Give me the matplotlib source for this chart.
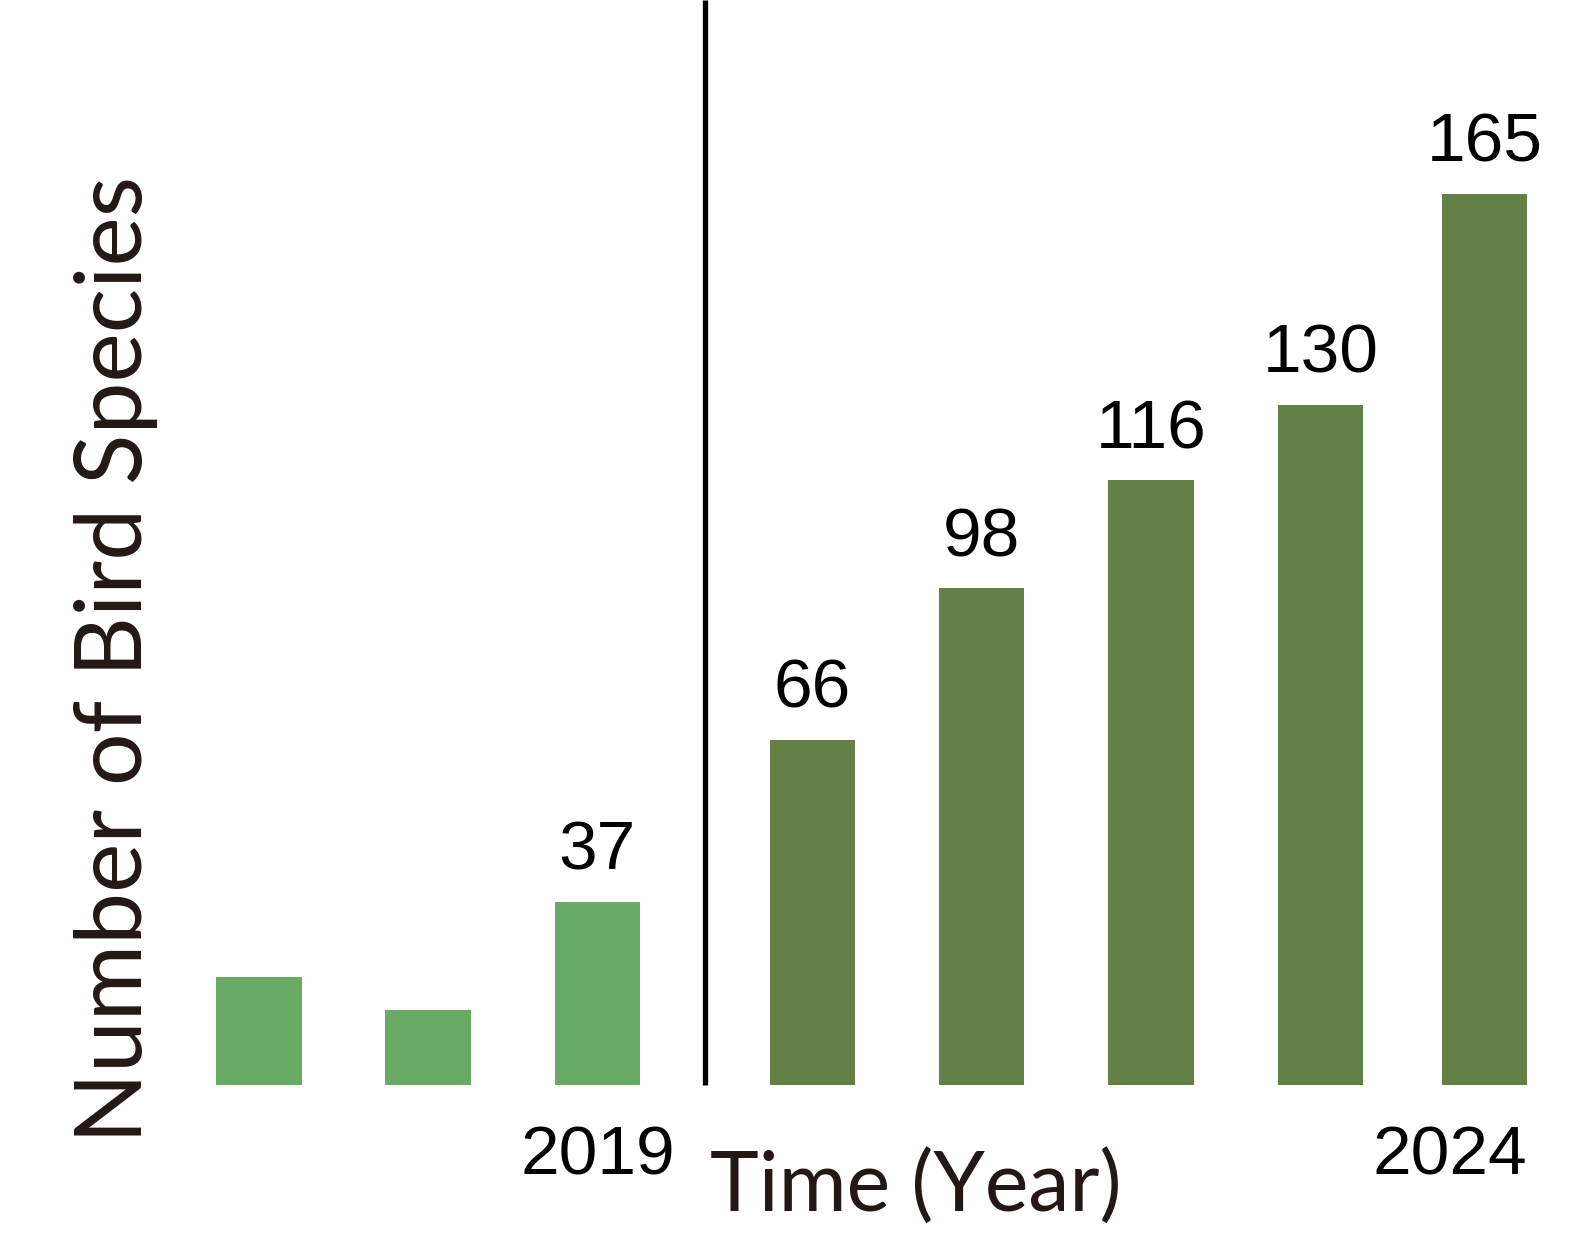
import matplotlib.pyplot as plt
import numpy as np

# bar lengths as drawn (the chart is not to scale), value labels printed above
bar_heights = [20, 14, 34, 64, 92, 112, 126, 165]
value_labels = ["", "", "37", "66", "98", "116", "130", "165"]
group = [0, 0, 0, 1, 1, 1, 1, 1]          # 0 = up to 2019, 1 = after 2019
year_labels = ["2019", "2024"]

LIGHT = "#69aa65"
DARK = "#658046"
INK = "#231815"

# x positions: a wider gap between the two periods
x = np.arange(len(bar_heights)) + 0.27 * np.array(group)
x[-1] -= 0.03   # last bar sits a little closer in the original
width = 0.505

fig = plt.figure(figsize=(15.84, 12.44), dpi=100)
ax = fig.add_axes([0, 0, 1, 1])
ax.set_xlim(-1.529, 7.828)
ax.set_ylim(-29.38, 200.9)
ax.axis("off")

colors = [LIGHT if g == 0 else DARK for g in group]
bars = ax.bar(x, bar_heights, width, color=colors, linewidth=0)

# valeurs au-dessus des barres
for xi, h, lab in zip(x, bar_heights, value_labels):
    if lab:
        ax.annotate(lab, (xi, h), xytext=(0, 23), textcoords="offset points",
                    ha="center", va="baseline", fontsize=50,
                    family="Liberation Sans", color="black")

# separator between the two periods
sep = (x[2] + x[3]) / 2
ax.vlines(sep, 0, ax.get_ylim()[1], color="black", linewidth=3.8)

# years under first / last bar
ax.annotate(year_labels[0], (x[2], 0), xytext=(0, -64), textcoords="offset points",
            ha="center", va="baseline", fontsize=50, family="Liberation Sans")
ax.annotate(year_labels[1], (x[-1] + width / 2, 0), xytext=(0, -64),
            textcoords="offset points", ha="right", va="baseline",
            fontsize=50, family="Liberation Sans")

# axis titles
ax.annotate("Time (Year)", (sep, 0), xytext=(4, -91), textcoords="offset points",
            ha="left", va="baseline", fontsize=59.5, family="Lato", color=INK)
fig.text(142 / 1584, 1 - 1143 / 1244, "Number of Bird Species", rotation=90,
         rotation_mode="anchor", ha="left", va="baseline",
         fontsize=67, family="Lato", color=INK)

fig.savefig("out.png", dpi=100)
